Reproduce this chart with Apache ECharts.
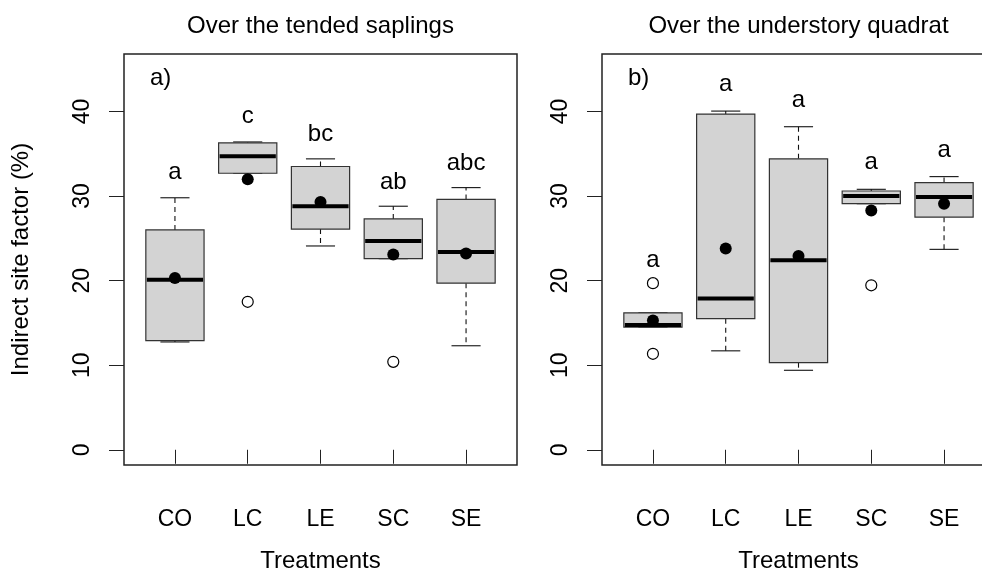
<!DOCTYPE html>
<html>
<head>
<meta charset="utf-8">
<script src="https://cdn.jsdelivr.net/npm/echarts@6/dist/echarts.min.js"></script>
<style>html,body{margin:0;padding:0;background:#fff;}#c{width:982px;height:579px;}</style>
</head>
<body>
<div id="c"></div>
<script>
// ---- data ----
const categories = ['CO', 'LC', 'LE', 'SC', 'SE'];
const yTicks = [0, 10, 20, 30, 40];

// Panel a) Over the tended saplings
const sapLow  = [12.75, 32.7, 24.1, 22.6, 12.3];
const sapQ1   = [12.9, 32.7, 26.1, 22.6, 19.7];
const sapMed  = [20.1, 34.7, 28.8, 24.7, 23.4];
const sapQ3   = [26.0, 36.3, 33.5, 27.3, 29.6];
const sapHigh = [29.8, 36.4, 34.4, 28.8, 31.0];
const sapMean = [20.3, 32.0, 29.3, 23.1, 23.2];
const sapOutX = [2, 4];
const sapOutY = [17.5, 10.4];
const sapLetters = ['a', 'c', 'bc', 'ab', 'abc'];
const sapLetterY = [31.9, 38.5, 36.3, 30.7, 32.9];

// Panel b) Over the understory quadrat
const undLow  = [14.5, 11.7, 9.4, 29.1, 23.7];
const undQ1   = [14.5, 15.5, 10.3, 29.1, 27.5];
const undMed  = [14.75, 17.9, 22.4, 30.0, 29.9];
const undQ3   = [16.2, 39.7, 34.4, 30.6, 31.6];
const undHigh = [16.2, 40.05, 38.2, 30.8, 32.3];
const undMean = [15.3, 23.8, 22.9, 28.3, 29.1];
const undOutX = [1, 1, 4];
const undOutY = [19.7, 11.35, 19.45];
const undLetters = ['a', 'a', 'a', 'a', 'a'];
const undLetterY = [21.4, 42.3, 40.4, 33.0, 34.5];

// ---- chart ----
const FONT = '"Liberation Sans", Arial, Helvetica, sans-serif';
const chart = echarts.init(document.getElementById('c'), null, {renderer: 'canvas'});

function boxRender(params, api) {
  const x = api.value(0);
  const pLow = api.coord([x, api.value(1)]);
  const pQ1 = api.coord([x, api.value(2)]);
  const pMed = api.coord([x, api.value(3)]);
  const pQ3 = api.coord([x, api.value(4)]);
  const pHigh = api.coord([x, api.value(5)]);
  const bw = api.size([0.4, 0])[0];
  const sw = api.size([0.2, 0])[0];
  const cx = pMed[0];
  const dash = {stroke: '#111', lineWidth: 1.1, lineDash: [5, 4]};
  const solid = {stroke: '#111', lineWidth: 1.1};
  return {
    type: 'group',
    children: [
      {type: 'line', shape: {x1: cx, y1: pQ3[1], x2: cx, y2: pHigh[1]}, style: dash},
      {type: 'line', shape: {x1: cx, y1: pQ1[1], x2: cx, y2: pLow[1]}, style: dash},
      {type: 'line', shape: {x1: cx - sw, y1: pHigh[1], x2: cx + sw, y2: pHigh[1]}, style: solid},
      {type: 'line', shape: {x1: cx - sw, y1: pLow[1], x2: cx + sw, y2: pLow[1]}, style: solid},
      {type: 'rect', shape: {x: cx - bw, y: pQ3[1], width: 2 * bw, height: pQ1[1] - pQ3[1]},
        style: {fill: '#d3d3d3', stroke: '#333', lineWidth: 1.2}},
      {type: 'line', shape: {x1: cx - bw + 1, y1: pMed[1], x2: cx + bw - 1, y2: pMed[1]},
        style: {stroke: '#000', lineWidth: 4}}
    ]
  };
}

function panelSeries(idx, low, q1, med, q3, high, mean, outX, outY, letters, letterY) {
  const boxData = categories.map((c, i) => [i + 1, low[i], q1[i], med[i], q3[i], high[i]]);
  return [
    {
      type: 'custom', xAxisIndex: idx, yAxisIndex: idx, renderItem: boxRender,
      data: boxData, silent: true, clip: false, z: 2
    },
    {
      type: 'scatter', xAxisIndex: idx, yAxisIndex: idx, silent: true, z: 3,
      data: outX.map((x, i) => [x, outY[i]]),
      symbol: 'circle', symbolSize: 11,
      itemStyle: {color: '#fff', borderColor: '#000', borderWidth: 1.2, opacity: 1}
    },
    {
      type: 'scatter', xAxisIndex: idx, yAxisIndex: idx, silent: true, z: 4,
      data: mean.map((v, i) => [i + 1, v]),
      symbol: 'circle', symbolSize: 12,
      itemStyle: {color: '#000', opacity: 1}
    },
    {
      type: 'scatter', xAxisIndex: idx, yAxisIndex: idx, silent: true, z: 5,
      data: letterY.map((v, i) => [i + 1, v]),
      symbolSize: 0,
      itemStyle: {opacity: 1},
      label: {
        show: true, position: 'inside', offset: [0, -8],
        formatter: p => letters[p.dataIndex],
        color: '#000', fontSize: 24, fontFamily: FONT
      }
    }
  ];
}

function xAxisDef(idx) {
  return {
    type: 'value', gridIndex: idx, min: 0.3, max: 5.7,
    axisLine: {show: false},
    splitLine: {show: false},
    axisTick: {show: true, length: 14, customValues: [1, 2, 3, 4, 5], lineStyle: {color: '#222', width: 1}},
    axisLabel: {
      show: true, customValues: [1, 2, 3, 4, 5], margin: 43,
      formatter: v => categories[Math.round(v) - 1] || '',
      color: '#000', fontSize: 23, fontFamily: FONT
    }
  };
}

function yAxisDef(idx) {
  return {
    type: 'value', gridIndex: idx, min: -1.8, max: 46.8,
    axisLine: {show: false},
    splitLine: {show: false},
    axisTick: {show: true, length: 15, customValues: yTicks, lineStyle: {color: '#222', width: 1}},
    axisLabel: {
      show: true, customValues: yTicks, rotate: 90, margin: 30,
      formatter: v => String(v),
      color: '#000', fontSize: 23, fontFamily: FONT
    }
  };
}

const txt = (x, y, s, extra) => Object.assign({
  type: 'text', x: x, y: y, silent: true,
  style: {text: s, fill: '#000', fontSize: 24, fontFamily: FONT, align: 'center', verticalAlign: 'middle'}
}, extra || {});

const option = {
  animation: false,
  backgroundColor: '#fff',
  grid: [
    {left: 124, top: 54, width: 393, height: 411, show: true, borderColor: '#222', borderWidth: 1.5,
     backgroundColor: 'transparent', containLabel: false, outerBoundsMode: 'none'},
    {left: 602, top: 54, width: 393, height: 411, show: true, borderColor: '#222', borderWidth: 1.5,
     backgroundColor: 'transparent', containLabel: false, outerBoundsMode: 'none'}
  ],
  xAxis: [xAxisDef(0), xAxisDef(1)],
  yAxis: [yAxisDef(0), yAxisDef(1)],
  series: [].concat(
    panelSeries(0, sapLow, sapQ1, sapMed, sapQ3, sapHigh, sapMean, sapOutX, sapOutY, sapLetters, sapLetterY),
    panelSeries(1, undLow, undQ1, undMed, undQ3, undHigh, undMean, undOutX, undOutY, undLetters, undLetterY)
  ),
  graphic: [
    txt(320.5, 26, 'Over the tended saplings'),
    txt(798.5, 26, 'Over the understory quadrat'),
    txt(320.5, 561, 'Treatments'),
    txt(798.5, 561, 'Treatments'),
    txt(21, 259.5, 'Indirect site factor (%)', {rotation: Math.PI / 2}),
    {type: 'text', x: 150, y: 78, silent: true,
     style: {text: 'a)', fill: '#000', fontSize: 24, fontFamily: FONT, align: 'left', verticalAlign: 'middle'}},
    {type: 'text', x: 628, y: 78, silent: true,
     style: {text: 'b)', fill: '#000', fontSize: 24, fontFamily: FONT, align: 'left', verticalAlign: 'middle'}}
  ]
};
chart.setOption(option);
</script>
</body>
</html>
